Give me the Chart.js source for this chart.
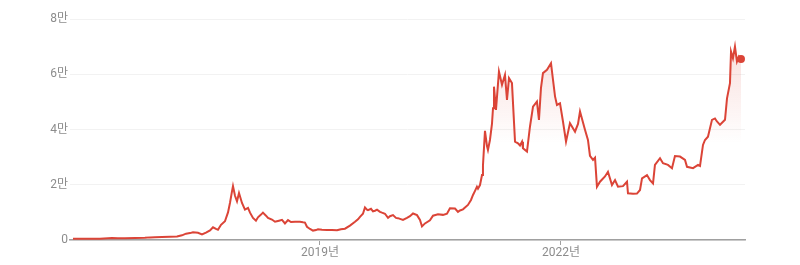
<!DOCTYPE html>
<html>
<head>
<meta charset="utf-8">
<script src="https://cdn.jsdelivr.net/npm/chart.js@4"></script>
<style>
  html, body { margin: 0; padding: 0; background: #fff; }
  #wrap { width: 800px; height: 265px; }
</style>
</head>
<body>
<div id="wrap"><canvas id="btc"></canvas></div>
<script>
// decimal years
const years = [
  2015.925, 2016.012, 2016.137, 2016.261, 2016.361, 2016.411, 2016.485, 2016.572, 2016.697, 2016.821,
  2016.884, 2016.946, 2017.033, 2017.133, 2017.220, 2017.282, 2017.332, 2017.382, 2017.419, 2017.481,
  2017.531, 2017.581, 2017.631, 2017.668, 2017.705, 2017.730, 2017.768, 2017.817, 2017.855, 2017.880,
  2017.904, 2017.917, 2017.942, 2017.967, 2017.992, 2018.029, 2018.066, 2018.104, 2018.129, 2018.166,
  2018.203, 2018.228, 2018.266, 2018.290, 2018.328, 2018.353, 2018.402, 2018.440, 2018.490, 2018.527,
  2018.564, 2018.602, 2018.639, 2018.689, 2018.751, 2018.788, 2018.813, 2018.838, 2018.876, 2018.913,
  2018.950, 2018.975, 2019.025, 2019.087, 2019.149, 2019.212, 2019.261, 2019.311, 2019.373, 2019.436,
  2019.473, 2019.498, 2019.535, 2019.560, 2019.585, 2019.598, 2019.635, 2019.660, 2019.685, 2019.710,
  2019.747, 2019.772, 2019.809, 2019.847, 2019.871, 2019.909, 2019.946, 2019.971, 2020.033, 2020.083,
  2020.120, 2020.158, 2020.208, 2020.245, 2020.270, 2020.307, 2020.369, 2020.407, 2020.469, 2020.531,
  2020.581, 2020.618, 2020.681, 2020.718, 2020.743, 2020.780, 2020.842, 2020.880, 2020.905, 2020.930,
  2020.954, 2020.967, 2020.992, 2021.017, 2021.029, 2021.054, 2021.079, 2021.091, 2021.116, 2021.141,
  2021.154, 2021.166, 2021.191, 2021.228, 2021.266, 2021.303, 2021.328, 2021.353, 2021.390, 2021.428,
  2021.465, 2021.490, 2021.515, 2021.527, 2021.577, 2021.614, 2021.652, 2021.701, 2021.726, 2021.751,
  2021.776, 2021.826, 2021.876, 2021.901, 2021.926, 2021.950, 2021.988, 2022.025, 2022.063, 2022.112,
  2022.175, 2022.212, 2022.237, 2022.299, 2022.336, 2022.361, 2022.399, 2022.424, 2022.448, 2022.486,
  2022.548, 2022.585, 2022.635, 2022.673, 2022.710, 2022.772, 2022.822, 2022.834, 2022.897, 2022.946,
  2022.984, 2023.009, 2023.071, 2023.108, 2023.146, 2023.170, 2023.233, 2023.270, 2023.332, 2023.382,
  2023.419, 2023.482, 2023.544, 2023.569, 2023.644, 2023.706, 2023.731, 2023.768, 2023.793, 2023.830,
  2023.880, 2023.917, 2023.942, 2023.980, 2024.042, 2024.067, 2024.104, 2024.117, 2024.141, 2024.166,
  2024.191, 2024.216, 2024.241
];

// price in USD
const prices = [
  430, 420, 440, 460, 600, 680, 620, 610, 700, 780,
  950, 1000, 1050, 1150, 1250, 1700, 2300, 2500, 2800, 2600,
  2000, 2700, 3500, 4600, 4000, 3700, 5500, 6800, 10000, 13500,
  17500, 19500, 16000, 14000, 17000, 13400, 11000, 11600, 9900, 8000,
  7000, 8200, 9200, 9900, 8800, 8000, 7400, 6600, 7000, 7300,
  6000, 7200, 6500, 6600, 6600, 6400, 6300, 4800, 4000, 3400,
  3600, 3900, 3700, 3600, 3600, 3500, 3900, 4100, 5200, 6600,
  7500, 8400, 9500, 11800, 11000, 10800, 11300, 10400, 10600, 11000,
  10200, 9900, 9500, 8000, 8600, 9000, 8000, 7900, 7250, 8000,
  8600, 9600, 9000, 7250, 4900, 6000, 7100, 8800, 9300, 9100,
  9500, 11500, 11400, 10200, 10700, 11100, 12700, 14500, 16300, 17800,
  19300, 18600, 19900, 23500, 27000, 39500, 34000, 32600, 36200, 42000,
  47700, 55500, 47100, 61000, 56200, 59800, 50700, 58600, 56800, 35600,
  35000, 34200, 35600, 33200, 32000, 41000, 48300, 50100, 43500, 55000,
  60400, 61600, 64000, 58000, 52000, 48900, 49500, 42900, 35600, 42300,
  39200, 42000, 46500, 39900, 36200, 30500, 29000, 29800, 19300, 21100,
  23000, 24700, 19900, 21700, 19300, 19500, 21100, 16900, 16700, 16800,
  18100, 22300, 23500, 21700, 20500, 27200, 29600, 27800, 27200, 26000,
  30400, 30200, 29000, 26500, 26000, 27200, 26800, 34400, 36200, 37400,
  43500, 44000, 42900, 41700, 43500, 51300, 56800, 68200, 65800, 70000,
  64600, 66400, 65500
];

const yTicks = [0, 20000, 40000, 60000, 80000];
const xTicks = [2019, 2022];

const red = '#db4437';
const points = years.map((x, i) => ({ x: x, y: prices[i] }));
const last = points.length - 1;

function fillGradient(context) {
  const chart = context.chart;
  const area = chart.chartArea;
  if (!area) return 'rgba(219,68,55,0.1)';
  const yScale = chart.scales.y;
  const g = chart.ctx.createLinearGradient(0, area.top, 0, yScale.getPixelForValue(35000));
  g.addColorStop(0, 'rgba(219,68,55,0.22)');
  g.addColorStop(1, 'rgba(219,68,55,0)');
  return g;
}

new Chart('btc', {
  type: 'line',
  data: {
    datasets: [{
      data: points,
      borderColor: red,
      borderWidth: 2,
      backgroundColor: fillGradient,
      fill: 'origin',
      tension: 0,
      pointRadius: ctx => ctx.dataIndex === last ? 4 : 0,
      pointBackgroundColor: red,
      pointBorderWidth: 0,
      pointHoverRadius: 0
    }]
  },
  options: {
    responsive: true,
    maintainAspectRatio: false,
    animation: false,
    layout: { padding: { top: 19, right: 55, left: 0, bottom: 0 } },
    plugins: { legend: { display: false }, tooltip: { enabled: false } },
    scales: {
      x: {
        type: 'linear',
        min: 2015.888,
        max: 2024.291,
        afterBuildTicks: axis => { axis.ticks = xTicks.map(v => ({ value: v })); },
        afterFit: axis => { axis.height = 25; },
        grid: {
          drawOnChartArea: false,
          drawTicks: true,
          tickLength: 5,
          color: '#a0a0a0'
        },
        border: { display: true, color: '#a0a0a0', width: 1.5 },
        ticks: {
          autoSkip: false,
          maxRotation: 0,
          padding: 1,
          color: '#8c8c8c',
          font: { family: 'Roboto, "Noto Sans CJK KR", sans-serif', size: 12 },
          callback: v => v + '년'
        }
      },
      y: {
        min: 0,
        max: 80000,
        afterBuildTicks: axis => { axis.ticks = yTicks.map(v => ({ value: v })); },
        afterFit: axis => { axis.width = 70; },
        grid: { color: '#f2f2f2', drawTicks: false, lineWidth: 1 },
        border: { display: false },
        ticks: {
          padding: 2,
          color: '#8c8c8c',
          font: { family: 'Roboto, "Noto Sans CJK KR", sans-serif', size: 12 },
          callback: v => v === 0 ? '0' : (v / 10000) + '만'
        }
      }
    }
  }
});
</script>
</body>
</html>
